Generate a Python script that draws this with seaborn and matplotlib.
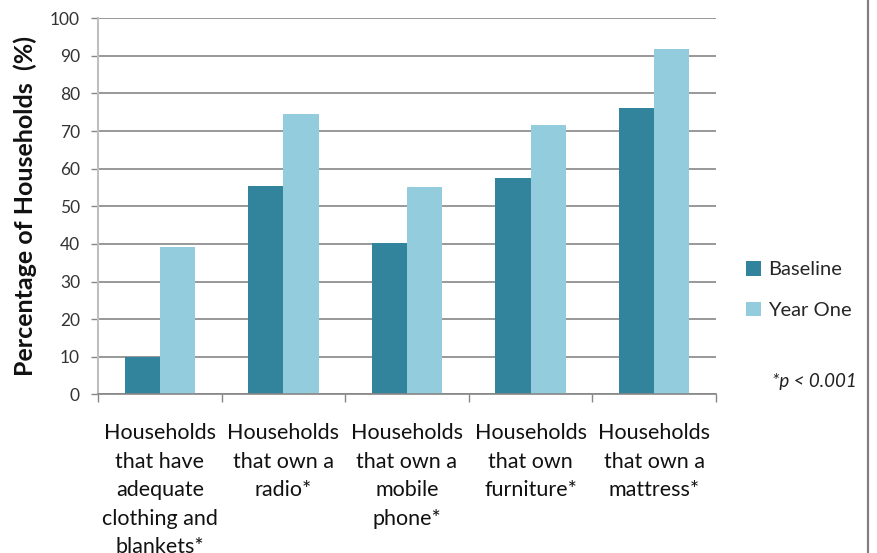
import matplotlib
matplotlib.use("Agg")
import matplotlib.pyplot as plt
import seaborn as sns
import pandas as pd
from matplotlib.lines import Line2D
from matplotlib.patches import Patch

categories = [
    "Households\nthat have\nadequate\nclothing and\nblankets*",
    "Households\nthat own a\nradio*",
    "Households\nthat own a\nmobile\nphone*",
    "Households\nthat own\nfurniture*",
    "Households\nthat own a\nmattress*",
]
baseline = [10.0, 55.4, 40.2, 57.5, 76.1]
year_one = [39.2, 74.6, 55.1, 71.6, 91.8]
series_names = ["Baseline", "Year One"]
yticks = [0, 10, 20, 30, 40, 50, 60, 70, 80, 90, 100]

colors = ["#31849B", "#93CDDD"]

df = pd.DataFrame({
    "category": categories * 2,
    "value": baseline + year_one,
    "series": [series_names[0]] * len(categories) + [series_names[1]] * len(categories),
})

sns.set_theme(style="white")
plt.rcParams["font.family"] = ["Lato", "DejaVu Sans"]

fig = plt.figure(figsize=(8.77, 5.53), dpi=100)
ax = fig.add_axes([98 / 877, 1 - 394.3 / 553, (716 - 98) / 877, (394.3 - 18.3) / 553])

sns.barplot(data=df, x="category", y="value", hue="series", palette=colors,
            width=0.57, saturation=1, ax=ax, legend=False, errorbar=None,
            linewidth=0, order=categories, hue_order=series_names)

ax.set_ylim(0, 100)
ax.set_xlim(-0.5, len(categories) - 0.5)
ax.set_yticks(yticks)
ax.set_yticklabels([str(v) for v in yticks], fontsize=12.5, color="#333333")
ax.yaxis.grid(True, color="#868686", linewidth=1.2)
ax.set_axisbelow(True)
ax.tick_params(axis="y", which="major", length=5, width=1, color="#868686", pad=8, left=True)

ax.set_xticks(range(len(categories)))
ax.set_xticklabels(categories, fontsize=15.5, color="#111111", linespacing=1.53)
ax.tick_params(axis="x", which="major", length=0, pad=21)
ax.set_xticks([i - 0.5 for i in range(len(categories) + 1)], minor=True)
ax.tick_params(axis="x", which="minor", length=6, width=1, color="#868686", bottom=True)

for s in ["top", "right"]:
    ax.spines[s].set_visible(False)
ax.spines["left"].set_color("#BFBFBF")
ax.spines["left"].set_linewidth(1.5)
ax.spines["bottom"].set_color("#868686")
ax.spines["bottom"].set_linewidth(1.2)

ax.set_xlabel("")
ax.set_ylabel("Percentage of Households  (%)", fontsize=18, fontweight="bold",
              color="#111111", labelpad=9)

handles = [Patch(facecolor=c, edgecolor="none") for c in colors]
fig.legend(handles, series_names, loc="center left",
           bbox_to_anchor=(728 / 877, 1 - 290 / 553), frameon=False,
           fontsize=14.5, handlelength=0.75, handleheight=0.75, handletextpad=0.35,
           labelspacing=1.15)

fig.text(857 / 877, 1 - 381 / 553, "*p < 0.001", ha="right", va="center",
         fontsize=13.5, style="italic", color="#222222")

fig.add_artist(Line2D([867.5 / 877, 867.5 / 877], [0, 1], transform=fig.transFigure,
                      color="#808080", linewidth=1.6))

fig.savefig("out.png", dpi=100)
